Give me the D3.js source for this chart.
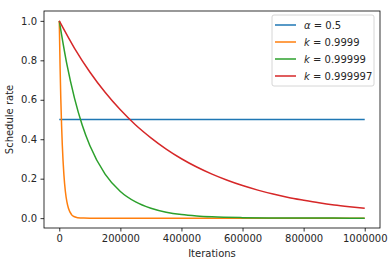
<!DOCTYPE html>
<html>
<head>
<meta charset="utf-8">
<script src="https://cdn.jsdelivr.net/npm/d3@7"></script>
<style>
  body { margin: 0; background: #fff; }
  text { font-family: "DejaVu Sans", sans-serif; fill: #262626; }
</style>
</head>
<body>
<svg id="chart" width="392" height="266"></svg>
<script>
// values
var alphaIters = [0, 1000000];
var alphaRate = [0.5, 0.5];

var k1Iters = [0, 2500, 5000, 7500, 10000, 15000, 20000, 25000, 30000, 40000, 50000, 60000, 80000, 100000, 200000, 400000, 600000, 800000, 1000000];
var k1Rate = [1.0, 0.779, 0.607, 0.472, 0.368, 0.223, 0.135, 0.082, 0.05, 0.018, 0.007, 0.0025, 0.0003, 0.0, 0.0, 0.0, 0.0, 0.0, 0.0];

var k2Iters = [0, 25000, 50000, 75000, 100000, 150000, 200000, 250000, 300000, 350000, 400000, 450000, 500000, 600000, 700000, 800000, 900000, 1000000];
var k2Rate = [1.0, 0.779, 0.607, 0.472, 0.368, 0.223, 0.135, 0.082, 0.05, 0.03, 0.018, 0.011, 0.0067, 0.0025, 0.0009, 0.0003, 0.0001, 0.0];

var k3Iters = [0, 50000, 100000, 150000, 200000, 250000, 300000, 350000, 400000, 450000, 500000, 550000, 600000, 650000, 700000, 750000, 800000, 850000, 900000, 950000, 1000000];
var k3Rate = [1.0, 0.861, 0.741, 0.638, 0.549, 0.472, 0.407, 0.35, 0.301, 0.259, 0.223, 0.192, 0.165, 0.142, 0.122, 0.105, 0.091, 0.078, 0.067, 0.058, 0.05];

var xTicks = [0, 200000, 400000, 600000, 800000, 1000000];
var yTicks = [0.0, 0.2, 0.4, 0.6, 0.8, 1.0];

var series = [
  {sym: "α", val: "0.5", x: alphaIters, y: alphaRate, color: "#1f77b4"},
  {sym: "k", val: "0.9999", x: k1Iters, y: k1Rate, color: "#ff7f0e"},
  {sym: "k", val: "0.99999", x: k2Iters, y: k2Rate, color: "#2ca02c"},
  {sym: "k", val: "0.999997", x: k3Iters, y: k3Rate, color: "#d62728"}
];

var svg = d3.select("#chart"),
    margin = {top: 11, right: 12, bottom: 38, left: 44},
    width = 392 - margin.left - margin.right,
    height = 266 - margin.top - margin.bottom;

var x = d3.scaleLinear().domain([-50000, 1050000]).range([0, width]);
var y = d3.scaleLinear().domain([-0.05, 1.05]).range([height, 0]);

var g = svg.append("g")
    .attr("transform", "translate(" + margin.left + "," + margin.top + ")");

var line = d3.line()
    .x(function(d) { return x(d[0]); })
    .y(function(d) { return y(d[1]); })
    .curve(d3.curveMonotoneX);

series.forEach(function(s) {
  g.append("path")
      .datum(d3.zip(s.x, s.y))
      .attr("fill", "none")
      .attr("stroke", s.color)
      .attr("stroke-width", 1.5)
      .attr("d", line);
});

// axes
var xAxis = g.append("g")
    .attr("transform", "translate(0," + height + ")")
    .call(d3.axisBottom(x).tickValues(xTicks).tickFormat(d3.format("d")).tickSize(3.5).tickPadding(3.5));
var yAxis = g.append("g")
    .call(d3.axisLeft(y).tickValues(yTicks).tickFormat(d3.format(".1f")).tickSize(3.5).tickPadding(3.5));

[xAxis, yAxis].forEach(function(a) {
  a.select(".domain").remove();
  a.selectAll(".tick line").attr("stroke", "#000").attr("stroke-width", 0.8);
  a.selectAll(".tick text").attr("font-size", 10).attr("fill", "#262626")
      .attr("font-family", "DejaVu Sans, sans-serif");
});

g.append("rect")
    .attr("width", width).attr("height", height)
    .attr("fill", "none").attr("stroke", "#000").attr("stroke-width", 0.8);

g.append("text")
    .attr("x", width / 2).attr("y", height + 29)
    .attr("text-anchor", "middle").attr("font-size", 10)
    .text("Iterations");

svg.append("text")
    .attr("transform", "translate(13," + (margin.top + height / 2) + ") rotate(-90)")
    .attr("text-anchor", "middle").attr("font-size", 10)
    .text("Schedule rate");

// legend
var legend = g.append("g").attr("transform", "translate(" + (width - 108) + ",4)");
legend.append("rect")
    .attr("width", 102).attr("height", 71).attr("rx", 2)
    .attr("fill", "#fff").attr("fill-opacity", 0.8)
    .attr("stroke", "#ccc").attr("stroke-width", 0.8);

series.forEach(function(s, i) {
  var row = legend.append("g").attr("transform", "translate(0," + (10 + i * 17) + ")");
  row.append("line")
      .attr("x1", 3).attr("x2", 24)
      .attr("stroke", s.color).attr("stroke-width", 1.5);
  var t = row.append("text")
      .attr("x", 32).attr("y", 3.5).attr("font-size", 10);
  t.append("tspan").attr("font-style", "italic").text(s.sym);
  t.append("tspan").text(" = " + s.val);
});
</script>
</body>
</html>
